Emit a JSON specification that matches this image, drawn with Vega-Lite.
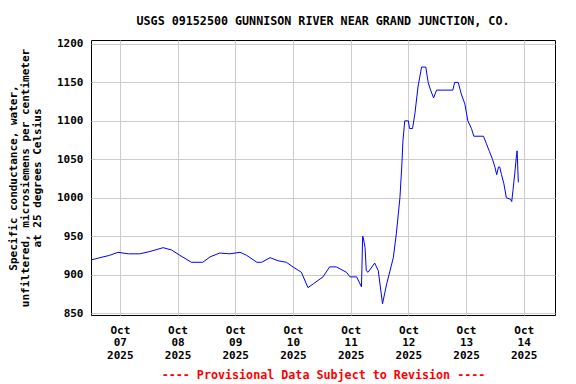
{
  "$schema": "https://vega.github.io/schema/vega-lite/v6.json",
  "width": 464,
  "height": 275,
  "autosize": "none",
  "padding": {"left": 91, "top": 40, "right": 21, "bottom": 69},
  "background": "white",
  "title": {
    "text": "USGS 09152500 GUNNISON RIVER NEAR GRAND JUNCTION, CO.",
    "font": "DejaVu Sans Mono",
    "fontSize": 11.7,
    "fontWeight": "bold",
    "color": "black",
    "offset": 10,
    "anchor": "middle"
  },
  "config": {
    "view": {"stroke": "black", "strokeWidth": 1},
    "axis": {
      "domain": false,
      "ticks": false,
      "grid": true,
      "gridColor": "#cccccc",
      "gridWidth": 1,
      "labelFont": "DejaVu Sans Mono",
      "labelFontWeight": "bold",
      "labelFontSize": 11,
      "labelColor": "black",
      "titleFont": "DejaVu Sans Mono",
      "titleFontWeight": "bold",
      "titleFontSize": 11,
      "titleColor": "black"
    }
  },
  "data": {
    "values": [
      {"t": "2025-10-06T12:00:00Z", "v": 919},
      {"t": "2025-10-06T15:45:00Z", "v": 922},
      {"t": "2025-10-06T19:45:00Z", "v": 925},
      {"t": "2025-10-06T23:15:00Z", "v": 929},
      {"t": "2025-10-07T03:30:00Z", "v": 927},
      {"t": "2025-10-07T08:15:00Z", "v": 927},
      {"t": "2025-10-07T12:30:00Z", "v": 930},
      {"t": "2025-10-07T18:00:00Z", "v": 935},
      {"t": "2025-10-07T21:30:00Z", "v": 932},
      {"t": "2025-10-08T01:00:00Z", "v": 925},
      {"t": "2025-10-08T05:45:00Z", "v": 916},
      {"t": "2025-10-08T10:30:00Z", "v": 916},
      {"t": "2025-10-08T13:30:00Z", "v": 923},
      {"t": "2025-10-08T17:30:00Z", "v": 928},
      {"t": "2025-10-08T21:45:00Z", "v": 927},
      {"t": "2025-10-09T02:00:00Z", "v": 929},
      {"t": "2025-10-09T04:45:00Z", "v": 925},
      {"t": "2025-10-09T09:00:00Z", "v": 916},
      {"t": "2025-10-09T11:00:00Z", "v": 916},
      {"t": "2025-10-09T14:30:00Z", "v": 922},
      {"t": "2025-10-09T17:45:00Z", "v": 918},
      {"t": "2025-10-09T21:15:00Z", "v": 916},
      {"t": "2025-10-10T00:00:00Z", "v": 910},
      {"t": "2025-10-10T03:30:00Z", "v": 903},
      {"t": "2025-10-10T06:15:00Z", "v": 883},
      {"t": "2025-10-10T08:30:00Z", "v": 888},
      {"t": "2025-10-10T12:30:00Z", "v": 897},
      {"t": "2025-10-10T15:15:00Z", "v": 910},
      {"t": "2025-10-10T18:00:00Z", "v": 910},
      {"t": "2025-10-10T22:15:00Z", "v": 903},
      {"t": "2025-10-10T23:45:00Z", "v": 897},
      {"t": "2025-10-11T02:30:00Z", "v": 897},
      {"t": "2025-10-11T04:30:00Z", "v": 884},
      {"t": "2025-10-11T05:00:00Z", "v": 950},
      {"t": "2025-10-11T05:15:00Z", "v": 948},
      {"t": "2025-10-11T06:00:00Z", "v": 935},
      {"t": "2025-10-11T06:30:00Z", "v": 905},
      {"t": "2025-10-11T07:15:00Z", "v": 903},
      {"t": "2025-10-11T10:00:00Z", "v": 915},
      {"t": "2025-10-11T11:30:00Z", "v": 905},
      {"t": "2025-10-11T13:15:00Z", "v": 862},
      {"t": "2025-10-11T15:00:00Z", "v": 888},
      {"t": "2025-10-11T17:45:00Z", "v": 922},
      {"t": "2025-10-11T19:00:00Z", "v": 953},
      {"t": "2025-10-11T20:30:00Z", "v": 1000},
      {"t": "2025-10-11T21:15:00Z", "v": 1040},
      {"t": "2025-10-11T21:45:00Z", "v": 1074},
      {"t": "2025-10-11T22:30:00Z", "v": 1100},
      {"t": "2025-10-12T00:00:00Z", "v": 1100},
      {"t": "2025-10-12T00:30:00Z", "v": 1090},
      {"t": "2025-10-12T01:45:00Z", "v": 1090},
      {"t": "2025-10-12T02:45:00Z", "v": 1110},
      {"t": "2025-10-12T04:00:00Z", "v": 1144},
      {"t": "2025-10-12T05:30:00Z", "v": 1170},
      {"t": "2025-10-12T07:15:00Z", "v": 1170},
      {"t": "2025-10-12T08:15:00Z", "v": 1150},
      {"t": "2025-10-12T09:15:00Z", "v": 1140},
      {"t": "2025-10-12T10:30:00Z", "v": 1130},
      {"t": "2025-10-12T11:45:00Z", "v": 1140},
      {"t": "2025-10-12T18:30:00Z", "v": 1140},
      {"t": "2025-10-12T19:15:00Z", "v": 1150},
      {"t": "2025-10-12T20:45:00Z", "v": 1150},
      {"t": "2025-10-12T22:00:00Z", "v": 1135},
      {"t": "2025-10-12T23:30:00Z", "v": 1122},
      {"t": "2025-10-13T00:45:00Z", "v": 1100},
      {"t": "2025-10-13T02:15:00Z", "v": 1090},
      {"t": "2025-10-13T03:15:00Z", "v": 1080},
      {"t": "2025-10-13T07:15:00Z", "v": 1080},
      {"t": "2025-10-13T08:30:00Z", "v": 1070},
      {"t": "2025-10-13T09:45:00Z", "v": 1060},
      {"t": "2025-10-13T11:00:00Z", "v": 1050},
      {"t": "2025-10-13T12:00:00Z", "v": 1040},
      {"t": "2025-10-13T12:45:00Z", "v": 1030},
      {"t": "2025-10-13T13:30:00Z", "v": 1040},
      {"t": "2025-10-13T14:00:00Z", "v": 1040},
      {"t": "2025-10-13T14:45:00Z", "v": 1030},
      {"t": "2025-10-13T15:45:00Z", "v": 1018},
      {"t": "2025-10-13T16:45:00Z", "v": 1000},
      {"t": "2025-10-13T18:30:00Z", "v": 998},
      {"t": "2025-10-13T19:00:00Z", "v": 995},
      {"t": "2025-10-13T19:30:00Z", "v": 1009},
      {"t": "2025-10-13T20:15:00Z", "v": 1031},
      {"t": "2025-10-13T21:00:00Z", "v": 1056},
      {"t": "2025-10-13T21:15:00Z", "v": 1061},
      {"t": "2025-10-13T21:30:00Z", "v": 1040},
      {"t": "2025-10-13T21:45:00Z", "v": 1020}
    ]
  },
  "mark": {"type": "line", "color": "#0000ff", "strokeWidth": 1, "clip": true},
  "encoding": {
    "x": {
      "field": "t",
      "type": "temporal",
      "scale": {
        "type": "utc",
        "domain": [
          {"year": 2025, "month": 10, "date": 6, "hours": 12, "utc": true},
          {"year": 2025, "month": 10, "date": 14, "hours": 13, "utc": true}
        ]
      },
      "axis": {
        "values": [
          {"year": 2025, "month": 10, "date": 7, "utc": true},
          {"year": 2025, "month": 10, "date": 8, "utc": true},
          {"year": 2025, "month": 10, "date": 9, "utc": true},
          {"year": 2025, "month": 10, "date": 10, "utc": true},
          {"year": 2025, "month": 10, "date": 11, "utc": true},
          {"year": 2025, "month": 10, "date": 12, "utc": true},
          {"year": 2025, "month": 10, "date": 13, "utc": true},
          {"year": 2025, "month": 10, "date": 14, "utc": true}
        ],
        "labelExpr": "[utcFormat(datum.value, '%b'), utcFormat(datum.value, '%d'), utcFormat(datum.value, '%Y')]",
        "labelLineHeight": 12.5,
        "labelPadding": 9,
        "labelBaseline": "top",
        "title": "---- Provisional Data Subject to Revision ----",
        "titleColor": "#ff0000",
        "titleFontSize": 11.7,
        "titlePadding": 9
      }
    },
    "y": {
      "field": "v",
      "type": "quantitative",
      "scale": {"domain": [847.4, 1205.2], "nice": false, "zero": false},
      "axis": {
        "values": [850, 900, 950, 1000, 1050, 1100, 1150, 1200],
        "format": "d",
        "labelPadding": 8,
        "title": ["Specific conductance, water,", "unfiltered, microsiemens per centimeter", "at 25 degrees Celsius"],
        "titleLineHeight": 12,
        "titlePadding": 14
      }
    }
  }
}
